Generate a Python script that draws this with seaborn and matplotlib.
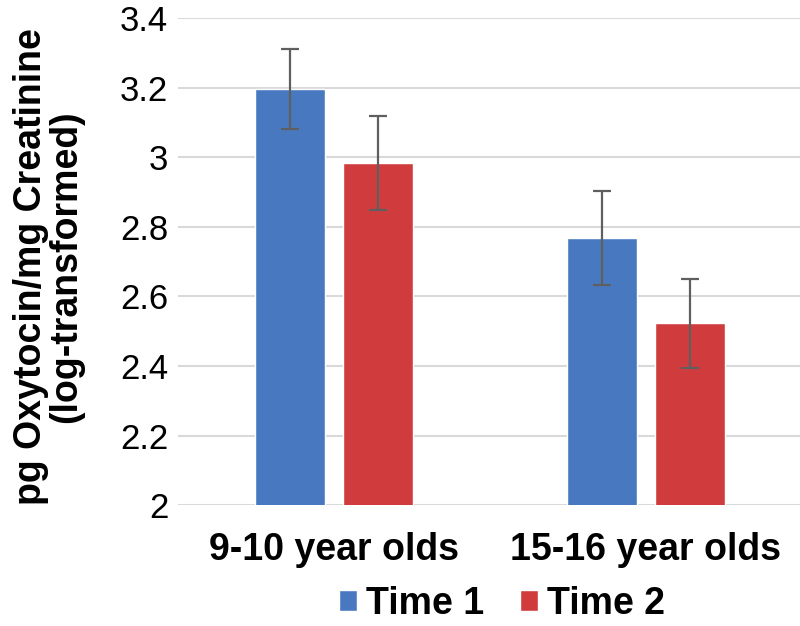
import matplotlib
matplotlib.use("Agg")
from matplotlib import pyplot as plt
import pandas as pd
import seaborn as sns

# values
groups = ['9-10 year olds', '15-16 year olds']
times = ['Time 1', 'Time 2']
time1_mean = [3.195, 2.768]
time2_mean = [2.983, 2.523]
time1_err = [0.115, 0.135]
time2_err = [0.135, 0.128]

df = pd.DataFrame({
    'group': groups * 2,
    'time': [times[0]] * 2 + [times[1]] * 2,
    'value': time1_mean + time2_mean,
    'err': time1_err + time2_err,
})

sns.set_theme(style="white")
plt.rcParams['font.family'] = ['Liberation Sans', 'DejaVu Sans']
plt.rcParams['text.color'] = 'black'
plt.rcParams['axes.labelcolor'] = 'black'
plt.rcParams['xtick.color'] = 'black'
plt.rcParams['ytick.color'] = 'black'

fig = plt.figure(figsize=(8, 6.26), dpi=100)
ax = fig.add_axes([0.2225, 0.193, 0.78, 0.778])

sns.barplot(data=df, x='group', y='value', hue='time', order=groups, hue_order=times,
            palette=['#4879C0', '#D03C3E'], width=0.56, gap=0.2, errorbar=None,
            saturation=1, ax=ax, zorder=2)

# error bars from the precomputed errors, placed at the bar centers
for container, t in zip(ax.containers, times):
    sub = df[df['time'] == t].set_index('group').loc[groups]
    xs = [p.get_x() + p.get_width() / 2 for p in container.patches]
    ax.errorbar(xs, sub['value'], yerr=sub['err'], fmt='none', ecolor='#5f5f5f',
                elinewidth=1.6, capsize=6.5, capthick=1.6, zorder=3)

ax.set_xlim(-0.5, 1.5)
ax.set_ylim(2, 3.4)
ax.set_yticks([2, 2.2, 2.4, 2.6, 2.8, 3, 3.2, 3.4])
ax.set_yticklabels(['2', '2.2', '2.4', '2.6', '2.8', '3', '3.2', '3.4'], fontsize=25)
ax.yaxis.grid(True, color='#d9d9d9', linewidth=1.5, zorder=0)
ax.set_axisbelow(True)
for s in ax.spines.values():
    s.set_visible(False)
ax.tick_params(axis='y', length=0, pad=7)
ax.tick_params(axis='x', length=0, pad=19)
for lab in ax.get_xticklabels():
    lab.set_fontsize(27)
    lab.set_fontweight('bold')
ax.set_xlabel('')
ax.set_ylabel('pg Oxytocin/mg Creatinine\n(log-transformed)', fontsize=27,
              fontweight='bold', linespacing=0.95)
ax.yaxis.set_label_coords(-0.151, 0.49)

ax.legend(loc='center', bbox_to_anchor=(502 / 800, 1 - 604 / 626),
          bbox_transform=fig.transFigure, ncol=2, frameon=False,
          prop={'size': 27, 'weight': 'bold'}, handlelength=0.48, handleheight=0.48,
          handletextpad=0.24, columnspacing=0.96, borderpad=0, borderaxespad=0)

fig.savefig('out.png', dpi=100)
